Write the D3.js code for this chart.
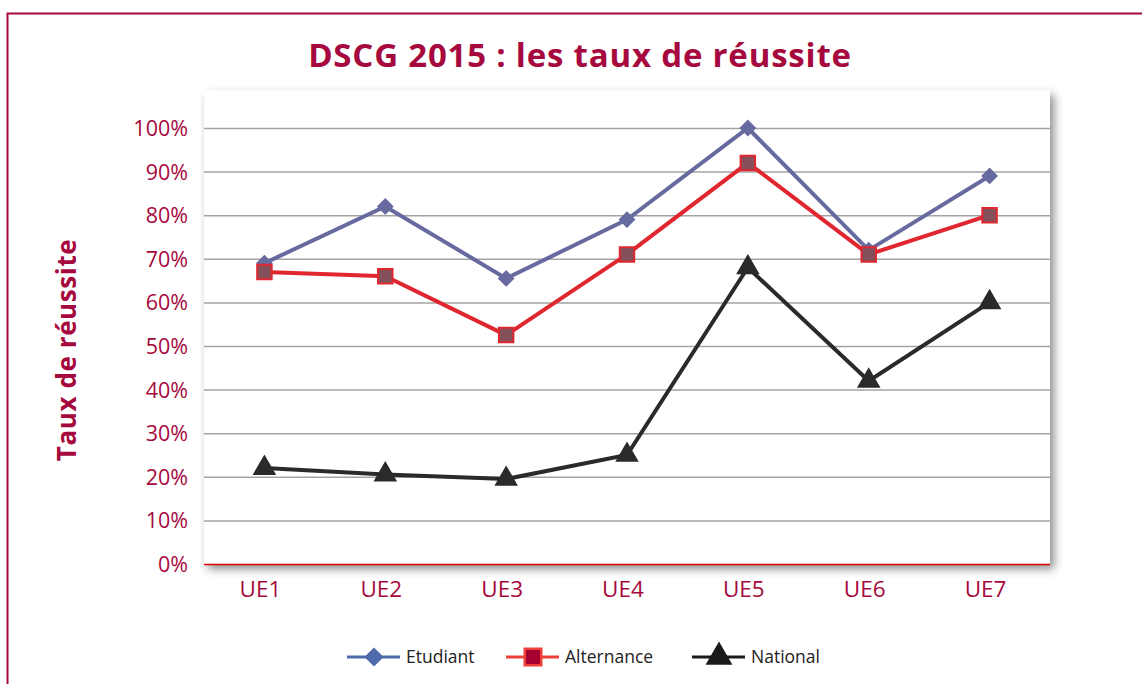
<!DOCTYPE html>
<html>
<head>
<meta charset="utf-8">
<script src="https://cdn.jsdelivr.net/npm/d3@7"></script>
<style>
  body { margin: 0; background: #fff; }
  svg { display: block; font-family: 'Open Sans', sans-serif; }
  svg text { font-family: 'Open Sans', sans-serif; }
</style>
</head>
<body>
<svg width="1142" height="684"></svg>
<script>
const categories = ['UE1', 'UE2', 'UE3', 'UE4', 'UE5', 'UE6', 'UE7'];
const etudiant = [69, 82, 65.5, 79, 100, 72, 89];
const alternance = [67, 66, 52.5, 71, 92, 71, 80];
const national = [22, 20.5, 19.5, 25, 68, 42, 60];
const yTicks = [0, 10, 20, 30, 40, 50, 60, 70, 80, 90, 100];

const series = [
  { name: 'Etudiant', values: etudiant, line: '#676a9f', legendLine: '#4f6aab', marker: 'diamond', fill: '#676a9f', stroke: 'none', legendFill: '#4f6aab' },
  { name: 'Alternance', values: alternance, line: '#e0262f', legendLine: '#f0403a', marker: 'square', fill: '#85505a', stroke: '#e0262f', legendFill: '#a6002f' },
  { name: 'National', values: national, line: '#2a2a2a', legendLine: '#1a1a1a', marker: 'triangle', fill: '#2a2a2a', stroke: 'none', legendFill: '#1a1a1a' }
];

const crimson = '#a6093d';
const svg = d3.select('svg');

const plotTop = 90, plotBottom = 564, plotLeft = 204, plotRight = 1050;

// frame
svg.append('rect')
  .attr('x', 7.5).attr('y', 13.5)
  .attr('width', 1150).attr('height', 700)
  .attr('fill', 'none')
  .attr('stroke', crimson)
  .attr('stroke-width', 2);

const defs = svg.append('defs');
const filt = defs.append('filter').attr('id', 'shadow')
  .attr('x', '-5%').attr('y', '-5%').attr('width', '115%').attr('height', '115%');
filt.append('feDropShadow')
  .attr('dx', 4).attr('dy', 5).attr('stdDeviation', 5)
  .attr('flood-color', '#000').attr('flood-opacity', 0.45);

svg.append('rect')
  .attr('x', plotLeft).attr('y', plotTop)
  .attr('width', plotRight - plotLeft).attr('height', plotBottom - plotTop)
  .attr('fill', '#fff')
  .attr('filter', 'url(#shadow)');

const xScale = d3.scaleBand()
  .domain(categories)
  .range([plotLeft, plotRight]);

const yScale = d3.scaleLinear()
  .domain([0, 100])
  .range([plotBottom, 128]);

const xPos = d => xScale(d) + xScale.bandwidth() / 2;

// grid + y axis
const yAxis = d3.axisLeft(yScale)
  .tickValues(yTicks)
  .tickSize(-(plotRight - plotLeft))
  .tickPadding(16)
  .tickFormat(d => d + '%');

const yAxisG = svg.append('g')
  .attr('transform', `translate(${plotLeft},0)`)
  .call(yAxis)
  .attr('font-family', null);
yAxisG.select('.domain').remove();
yAxisG.selectAll('.tick line')
  .attr('stroke', d => d === 0 ? '#e00000' : '#a3a3a3')
  .attr('stroke-width', 1.5);
yAxisG.selectAll('.tick text')
  .attr('fill', crimson)
  .attr('font-size', 21.5)
  .attr('dy', '0.35em');

const xAxis = d3.axisBottom(xScale).tickSize(0).tickPadding(17);
const xAxisG = svg.append('g')
  .attr('transform', `translate(0,${plotBottom})`)
  .call(xAxis)
  .attr('font-family', null);
xAxisG.select('.domain').remove();
xAxisG.selectAll('.tick text')
  .attr('fill', crimson)
  .attr('font-size', 22.5)
  .attr('dx', -4);

// title
svg.append('text')
  .attr('x', 580).attr('y', 67)
  .attr('text-anchor', 'middle')
  .attr('fill', crimson)
  .attr('font-weight', 'bold')
  .attr('font-size', 33)
  .attr('letter-spacing', 0.8)
  .text('DSCG 2015 : les taux de réussite');

svg.append('text')
  .attr('transform', 'translate(76,350) rotate(-90)')
  .attr('text-anchor', 'middle')
  .attr('fill', crimson)
  .attr('font-weight', 'bold')
  .attr('font-size', 26)
  .attr('letter-spacing', 0.6)
  .text('Taux de réussite');

const lineGen = d3.line()
  .x((d, i) => xPos(categories[i]))
  .y(d => yScale(d));

const symbolFor = m => m === 'diamond' ? d3.symbolDiamond2 : m === 'square' ? d3.symbolSquare : d3.symbolTriangle;
const sizeFor = m => m === 'diamond' ? 180 : m === 'square' ? 210 : 240;

series.forEach(s => {
  svg.append('path')
    .attr('d', lineGen(s.values))
    .attr('fill', 'none')
    .attr('stroke', s.line)
    .attr('stroke-width', 4)
    .attr('stroke-linejoin', 'miter');

  svg.selectAll(null)
    .data(s.values)
    .enter().append('path')
      .attr('transform', (d, i) => `translate(${xPos(categories[i])},${yScale(d)})`)
      .attr('d', d3.symbol().type(symbolFor(s.marker)).size(sizeFor(s.marker)))
      .attr('fill', s.fill)
      .attr('stroke', s.stroke)
      .attr('stroke-width', 2);
});

// legend
const legendX = [347, 506, 692];
const legendY = 657;
series.forEach((s, i) => {
  const g = svg.append('g').attr('transform', `translate(${legendX[i]},${legendY})`);
  g.append('line')
    .attr('x1', 0).attr('x2', 53)
    .attr('stroke', s.legendLine)
    .attr('stroke-width', 3);
  g.append('path')
    .attr('transform', 'translate(27,0)')
    .attr('d', d3.symbol().type(symbolFor(s.marker)).size(sizeFor(s.marker) * 1.3))
    .attr('fill', s.legendFill)
    .attr('stroke', s.marker === 'square' ? '#f0403a' : 'none')
    .attr('stroke-width', 2.5);
  g.append('text')
    .attr('x', 59).attr('dy', '0.35em')
    .attr('fill', '#222')
    .attr('font-size', 17.5)
    .text(s.name);
});
</script>
</body>
</html>
